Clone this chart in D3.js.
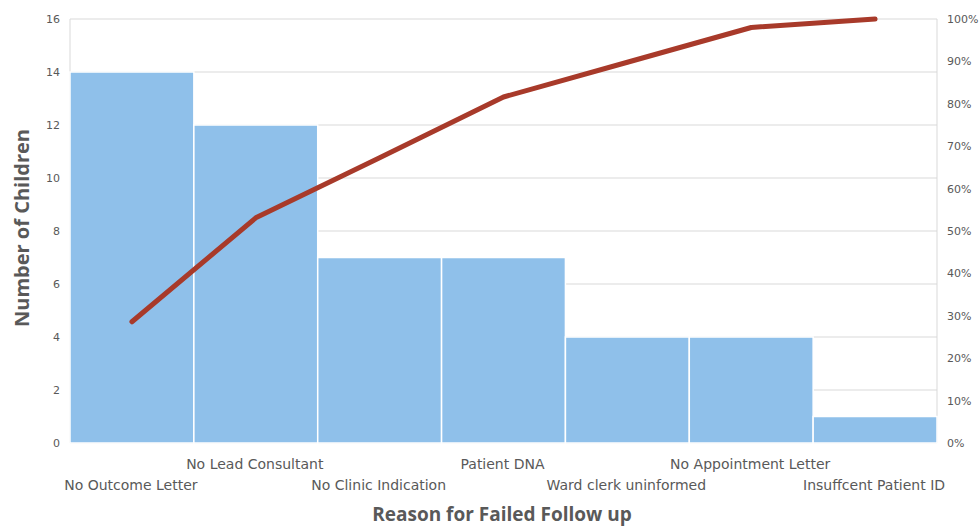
<!DOCTYPE html>
<html><head><meta charset="utf-8">
<script src="https://cdn.jsdelivr.net/npm/d3@7"></script>
<style>body{margin:0;background:#fff}svg{display:block}</style>
</head><body>
<svg id="c" width="979" height="527"></svg>
<script>
const categories = ["No Outcome Letter","No Lead Consultant","No Clinic Indication","Patient DNA","Ward clerk uninformed","No Appointment Letter","Insuffcent Patient ID"];
const counts = [14,12,7,7,4,4,1];
const cumulativePct = [28.6,53.1,67.3,81.6,89.8,98.0,100];
const leftTicks = [0,2,4,6,8,10,12,14,16];
const rightTicks = [0,10,20,30,40,50,60,70,80,90,100];

const svg = d3.select("#c");
const L = 70, R = 937, T = 19, B = 443;
const x = d3.scaleBand().domain(categories).range([L, R]).padding(0);
const y = d3.scaleLinear().domain([0,16]).range([B, T]);
const y2 = d3.scaleLinear().domain([0,100]).range([B, T]);
const tickFont = "'DejaVu Sans', sans-serif";

// gridlines
svg.append("g").selectAll("line").data(leftTicks).join("line")
  .attr("x1", L).attr("x2", R).attr("y1", d=>y(d)).attr("y2", d=>y(d))
  .attr("stroke", "#d9d9d9").attr("stroke-width", 1);
svg.append("line").attr("x1",L).attr("x2",L).attr("y1",T).attr("y2",B).attr("stroke","#d9d9d9");
svg.append("line").attr("x1",R).attr("x2",R).attr("y1",T).attr("y2",B).attr("stroke","#d9d9d9");

// bars
svg.append("g").selectAll("rect").data(counts).join("rect")
  .attr("x", (d,i)=>x(categories[i]))
  .attr("width", x.bandwidth())
  .attr("y", d=>y(d)).attr("height", d=>B - y(d))
  .attr("fill", "#8fc0ea").attr("stroke", "#ffffff").attr("stroke-width", 1.5);

// line
const line = d3.line().x((d,i)=>x(categories[i]) + x.bandwidth()/2).y(d=>y2(d));
svg.append("path").datum(cumulativePct).attr("d", line)
  .attr("fill","none").attr("stroke","#a83a2a").attr("stroke-width",5)
  .attr("stroke-linecap","round").attr("stroke-linejoin","round");

// left axis
const ax = d3.axisLeft(y).tickValues(leftTicks).tickSize(0).tickPadding(10);
const gl = svg.append("g").attr("transform",`translate(${L},0)`).call(ax);
gl.select(".domain").remove();
gl.selectAll("text").attr("fill","#595959").style("font-family",tickFont).style("font-size","11px");

// right axis
const ar = d3.axisRight(y2).tickValues(rightTicks).tickSize(0).tickPadding(10).tickFormat(d=>d+"%");
const gr = svg.append("g").attr("transform",`translate(${R},0)`).call(ar);
gr.select(".domain").remove();
gr.selectAll("text").attr("fill","#595959").style("font-family",tickFont).style("font-size","11px");

// category labels (staggered)
svg.append("g").selectAll("text").data(categories).join("text")
  .attr("x", d=>x(d)+x.bandwidth()/2 - 1)
  .attr("y", (d,i)=> i%2===0 ? 490 : 469)
  .attr("text-anchor","middle").attr("fill","#595959")
  .style("font-family",tickFont).style("font-size","14px")
  .text(d=>d);

// axis titles
svg.append("text").attr("x", 502).attr("y", 521).attr("text-anchor","middle")
  .attr("fill","#595959").style("font-family","'Open Sans', sans-serif").style("font-weight","bold").style("font-size","19px")
  .text("Reason for Failed Follow up");
svg.append("text").attr("transform","translate(29,228) rotate(-90)").attr("text-anchor","middle")
  .attr("fill","#595959").style("font-family","'Open Sans', sans-serif").style("font-weight","bold").style("font-size","20px")
  .text("Number of Children");
</script>
</body></html>
